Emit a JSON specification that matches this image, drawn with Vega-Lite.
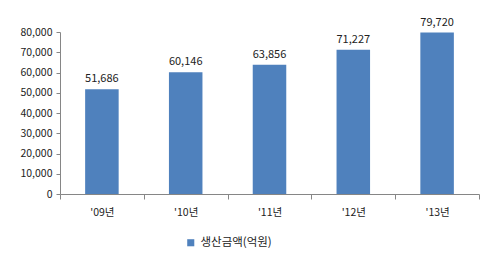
{
  "$schema": "https://vega.github.io/schema/vega-lite/v6.json",
  "autosize": "none",
  "width": 419,
  "height": 162,
  "padding": {"left": 60, "top": 32, "right": 6, "bottom": 67},
  "background": "white",
  "config": {
    "view": {"stroke": null},
    "font": "Noto Sans CJK KR",
    "axis": {"labelFont": "Noto Sans CJK KR", "labelFontSize": 10.5, "labelColor": "#222"},
    "legend": {"labelFont": "Noto Sans CJK KR", "labelFontSize": 11.5, "labelColor": "#222"}
  },
  "data": {
    "values": [
      {"year": "'09년", "value": 51686, "series": "생산금액(억원)"},
      {"year": "'10년", "value": 60146, "series": "생산금액(억원)"},
      {"year": "'11년", "value": 63856, "series": "생산금액(억원)"},
      {"year": "'12년", "value": 71227, "series": "생산금액(억원)"},
      {"year": "'13년", "value": 79720, "series": "생산금액(억원)"}
    ]
  },
  "encoding": {
    "x": {
      "field": "year", "type": "nominal", "sort": null,
      "scale": {"paddingInner": 0, "paddingOuter": 0},
      "axis": {"title": null, "labelAngle": 0, "tickBand": "extent", "domainColor": "#868686", "tickColor": "#868686", "tickSize": 5, "labelPadding": 8, "grid": false}
    },
    "y": {
      "field": "value", "type": "quantitative",
      "scale": {"domain": [0, 80000], "nice": false},
      "axis": {"title": null, "values": [0, 10000, 20000, 30000, 40000, 50000, 60000, 70000, 80000], "format": ",.0f", "grid": false, "domainColor": "#868686", "tickColor": "#868686", "tickSize": 4, "labelPadding": 4}
    }
  },
  "layer": [
    {
      "mark": {"type": "bar", "width": {"band": 0.4}, "color": "#4F81BD"},
      "encoding": {
        "color": {
          "field": "series", "type": "nominal",
          "scale": {"range": ["#4F81BD"]},
          "legend": {"title": null, "orient": "none", "legendX": 125, "legendY": 205, "symbolType": "square", "symbolSize": 50, "symbolStrokeWidth": 0}
        }
      }
    },
    {
      "mark": {"type": "text", "dy": -10, "fontSize": 11, "color": "#222"},
      "encoding": {"text": {"field": "value", "type": "quantitative", "format": ",.0f"}}
    }
  ]
}
